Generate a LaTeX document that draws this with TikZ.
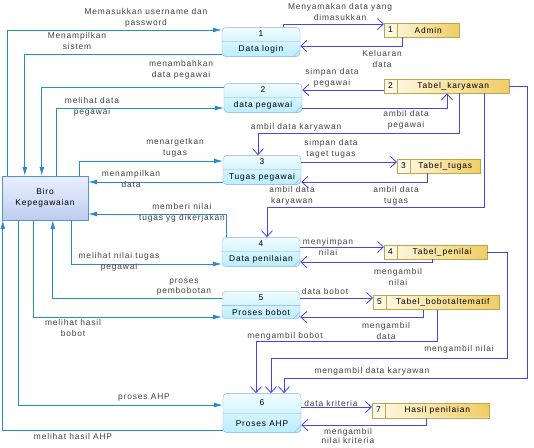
\documentclass[tikz,border=0pt]{standalone}
\usepackage{fontspec}
\setmainfont[LetterSpace=10]{Liberation Sans}
\usetikzlibrary{shapes.multipart,arrows.meta}

\definecolor{flowblue}{RGB}{40,140,200}
\definecolor{flowviolet}{RGB}{70,70,230}
\definecolor{procline}{RGB}{140,170,240}
\definecolor{proctop}{RGB}{240,252,255}
\definecolor{procbot}{RGB}{185,238,255}
\definecolor{entline}{RGB}{80,150,210}
\definecolor{enttop}{RGB}{235,240,255}
\definecolor{entbot}{RGB}{190,205,240}
\definecolor{storeline}{RGB}{190,165,80}
\definecolor{storeleft}{RGB}{255,251,235}
\definecolor{storeright}{RGB}{240,205,100}

\tikzset{
  proc/.style={rectangle split, rectangle split parts=2, draw=procline,
    rounded corners=4pt, top color=proctop, bottom color=procbot,
    minimum width=78pt, inner ysep=3.3pt, text height=5.8pt, text depth=1.6pt,
    align=center,
    path picture={\draw[procline] ([xshift=-7pt]path picture bounding box.south east)
      -- ([yshift=7pt]path picture bounding box.south east);}},
  entity/.style={draw=entline, top color=enttop, bottom color=entbot,
    minimum width=86pt, minimum height=44pt, align=center},
  store/.style={rectangle split, rectangle split horizontal, rectangle split parts=2,
    draw=storeline, left color=storeleft, right color=storeright, anchor=west,
    inner xsep=4pt, inner ysep=3.3pt, text height=5.8pt, text depth=1.6pt},
  flowB/.style={draw=flowblue, line width=0.8pt, -{Latex[length=9pt,width=5pt]}},
  flowS/.style={draw=flowviolet, line width=0.8pt, -{Straight Barb[length=6pt,width=11pt]}},
  lbl/.style={align=center, inner sep=0pt, text=black!75}
}

\begin{document}
\begin{tikzpicture}[x=1pt,y=-1pt,font=\fontsize{8.4}{10.5}\selectfont]
  \fill[white] (0,0) rectangle (534,447);
  \useasboundingbox (0,0) rectangle (534,447);

  % processes
  \node[proc] (p1) at (261,42) {1\nodepart{two}Data login};
  \node[proc] (p2) at (263,98) {2\nodepart{two}data pegawai};
  \node[proc] (p3) at (262,170) {3\nodepart{two}Tugas pegawai};
  \node[proc] (p4) at (261,252) {4\nodepart{two}Data penilaian};
  \node[proc] (p5) at (261,305) {5\nodepart{two}Proses bobot};
  \node[proc, inner ysep=6.3pt] (p6) at (262,413) {6\nodepart{two}Proses AHP};

  % external entity
  \node[entity] (biro) at (45,198) {Biro\\Kepegawaian};

  % data stores
  \node[store] (d1) at (384,30) {1\nodepart{two}\makebox[54pt]{Admin}};
  \node[store] (d2) at (384,86) {2\nodepart{two}\makebox[104pt]{Tabel\_karyawan}};
  \node[store] (d3) at (397,166) {3\nodepart{two}\makebox[62pt]{Tabel\_tugas}};
  \node[store] (d4) at (384,252) {4\nodepart{two}\makebox[82pt]{Tabel\_penilai}};
  \node[store] (d5) at (373,302.5) {5\nodepart{two}\makebox[105pt]{Tabel\_bobotaltematif}};
  \node[store] (d7) at (372,410.5) {7\nodepart{two}\makebox[96pt]{Hasil penilaian}};

  % biro <-> processes
  \draw[flowB] ([xshift=6pt]biro.north west) |- ([yshift=12pt]p1.west);
  \draw[flowB] ([yshift=-12pt]p1.west) -| ([xshift=23pt]biro.north west);
  \draw[flowB] ([yshift=11pt]p2.west) -| ([xshift=40pt]biro.north west);
  \draw[flowB] ([xshift=55pt]biro.north west) |- ([yshift=-10pt]p2.west);
  \draw[flowB] ([xshift=78pt]biro.north west) |- ([yshift=9pt]p3.west);
  \draw[flowB] ([yshift=-12pt]p3.west) -- ([yshift=16pt]biro.east);
  \draw[flowB] ([xshift=5pt]p4.north west) |- ([yshift=-16pt]biro.east);
  \draw[flowB] ([xshift=70pt]biro.south west) |- ([yshift=-12pt]p4.west);
  \draw[flowB] ([yshift=7pt]p5.west) -| ([xshift=51pt]biro.south west);
  \draw[flowB] ([xshift=32pt]biro.south west) |- ([yshift=-12pt]p5.west);
  \draw[flowB] ([xshift=17pt]biro.south west) |- ([yshift=8pt]p6.west);
  \draw[flowB] ([yshift=-17pt]p6.west) -| ([xshift=1pt]biro.south west);

  % processes <-> stores
  \draw[flowS] ([xshift=22pt]p1.north) |- ([yshift=6pt]d1.west);
  \draw[flowS] ([xshift=18pt]d1.south west) |- ([yshift=-4pt]p1.east);
  \draw[flowS] ([yshift=-4pt]d2.west) -- ([yshift=8pt]p2.east);
  \draw[flowS] ([yshift=-10pt]p2.east) -| ([xshift=63pt]d2.south west);
  \draw[flowS] ([xshift=75pt]d2.south west) |- ([xshift=-4pt,yshift=22pt]p3.north) -- ([xshift=-4pt]p3.north);
  \draw[flowS] ([yshift=8pt]p3.east) -- ([yshift=4pt]d3.west);
  \draw[flowS] ([xshift=30pt]d3.south west) |- ([yshift=-12pt]p3.east);
  \draw[flowS] ([xshift=100pt]d2.south west) |- ([xshift=6pt,yshift=30pt]p4.north) -- ([xshift=6pt]p4.north);
  \draw[flowS] ([yshift=5pt]p4.east) -- ([yshift=5pt]d4.west);
  \draw[flowS] ([xshift=48pt]d4.south west) |- ([yshift=-10pt]p4.east);
  \draw[flowS] ([yshift=7pt]p5.east) -- ([yshift=4.5pt]d5.west);
  \draw[flowS] ([xshift=50pt]d5.south west) |- ([yshift=-12pt]p5.east);
  \draw[flowS] ([xshift=64pt]d5.south west) |- ([xshift=-6pt,yshift=52pt]p6.north) -- ([xshift=-6pt]p6.north);
  \draw[flowS] (d4.east) -- ++(20,0) |- ([xshift=9pt,yshift=35pt]p6.north) -- ([xshift=9pt]p6.north);
  \draw[flowS] (d2.east) -- ++(18,0) |- ([xshift=22pt,yshift=15pt]p6.north) -- ([xshift=22pt]p6.north);
  \draw[flowS] ([yshift=6pt]p6.east) -- ([yshift=3.5pt]d7.west);
  \draw[flowS] ([xshift=54pt]d7.south west) |- ([yshift=-12pt]p6.east);

  % labels
  \node[lbl] (t1) at (146,18) {Memasukkan username dan\\password};
  \node[lbl] (t2) at (77,41) {Menampilkan\\sistem};
  \node[lbl] (t3) at (181,70) {menambahkan\\data pegawai};
  \node[lbl] (t4) at (92,107) {melihat data\\pegawai};
  \node[lbl] (t5) at (175,148) {menargetkan\\tugas};
  \node[lbl] (t6) at (131,179) {menampilkan\\data};
  \node[lbl] (t7) at (182,213) {memberi nilai\\tugas yg dikerjakan};
  \node[lbl] (t8) at (119,262) {melihat nilai tugas\\pegawai};
  \node[lbl] (t9) at (184,287) {proses\\pembobotan};
  \node[lbl] (t10) at (73,328) {melihat hasil\\bobot};
  \node[lbl] (t11) at (144,397) {proses AHP};
  \node[lbl] (t12) at (73,436) {melihat hasil AHP};

  \node[lbl] (t13) at (340,12) {Menyamakan data yang\\dimasukkan};
  \node[lbl] (t14) at (382,59) {Keluaran\\data};
  \node[lbl] (t15) at (332,78) {simpan data\\pegawai};
  \node[lbl] (t16) at (406,120) {ambil data\\pegawai};
  \node[lbl] (t17) at (296,127) {ambil data karyawan};
  \node[lbl] (t18) at (331,149) {simpan data\\taget tugas};
  \node[lbl] (t19) at (396,196) {ambil data\\tugas};
  \node[lbl] (t20) at (292,196) {ambil data\\karyawan};
  \node[lbl] (t21) at (328,247) {menyimpan\\nilai};
  \node[lbl] (t22) at (398,277) {mengambil\\nilai};
  \node[lbl] (t23) at (325,291) {data bobot};
  \node[lbl] (t24) at (386,331) {mengambil\\data};
  \node[lbl] (t25) at (285,336) {mengambil bobot};
  \node[lbl] (t26) at (459,349) {mengambil nilai};
  \node[lbl] (t27) at (372,371) {mengambil data karyawan};
  \node[lbl] (t28) at (331,403) {data kriteria};
  \node[lbl, font=\fontsize{8.4}{9.5}\selectfont] (t29) at (348,436) {mengambil\\nilai kriteria};
\end{tikzpicture}
\end{document}
